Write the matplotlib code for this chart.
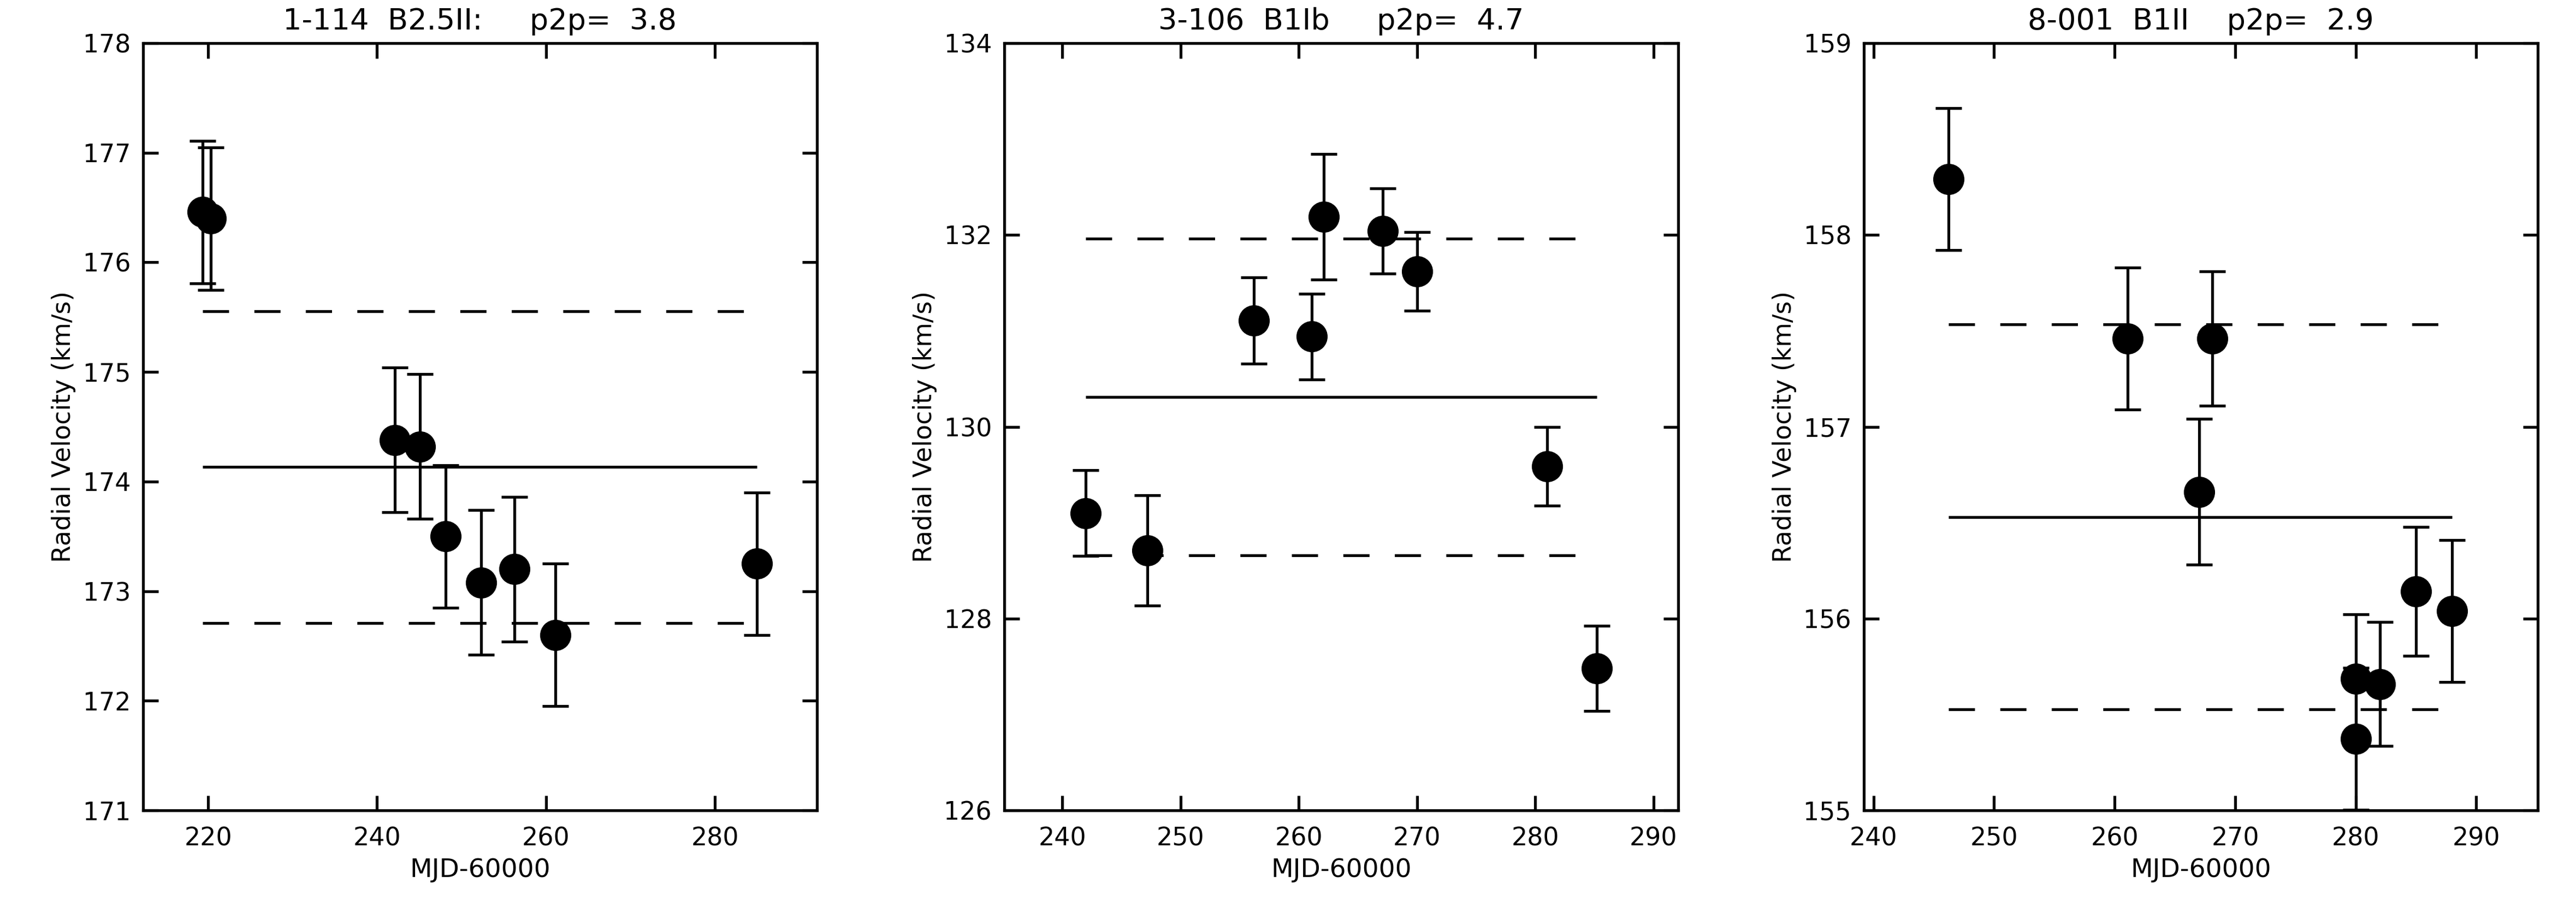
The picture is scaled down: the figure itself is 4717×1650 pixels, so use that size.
import numpy as np
import matplotlib
matplotlib.use("Agg")
import matplotlib.pyplot as plt

plt.rcParams['font.family'] = ['DejaVu Sans']

# ---- data ----
titles = ["1-114  B2.5II:     p2p=  3.8",
          "3-106  B1Ib     p2p=  4.7",
          "8-001  B1II    p2p=  2.9"]

mjd1 = [219.35, 220.3, 242.1, 245.1, 248.1, 252.3, 256.3, 261.1, 285.0]
rv1 = [176.46, 176.40, 174.38, 174.32, 173.50, 173.08, 173.20, 172.60, 173.25]
err1 = [0.65, 0.65, 0.66, 0.66, 0.65, 0.66, 0.66, 0.65, 0.65]

mjd2 = [242.0, 247.2, 256.2, 261.1, 262.1, 267.1, 270.0, 281.0, 285.2]
rv2 = [129.10, 128.71, 131.11, 130.94, 132.19, 132.04, 131.62, 129.59, 127.48]
err2 = [0.445, 0.575, 0.45, 0.445, 0.655, 0.445, 0.41, 0.41, 0.445]

mjd3 = [246.2, 261.1, 268.1, 267.0, 280.0, 280.0, 282.0, 285.0, 288.0]
rv3 = [158.29, 157.46, 157.46, 156.66, 155.686, 155.373, 155.658, 156.142, 156.039]
err3 = [0.37, 0.37, 0.35, 0.38, 0.336, 0.37, 0.323, 0.336, 0.37]

xlims = [(212.3, 292.1), (235.1, 292.1), (239.2, 295.1)]
ylims = [(171, 178), (126, 134), (155, 159)]
xticks = [[220, 240, 260, 280],
          [240, 250, 260, 270, 280, 290],
          [240, 250, 260, 270, 280, 290]]
yticks = [[171, 172, 173, 174, 175, 176, 177, 178],
          [126, 128, 130, 132, 134],
          [155, 156, 157, 158, 159]]

datasets = [(mjd1, rv1, err1), (mjd2, rv2, err2), (mjd3, rv3, err3)]

W, H = 4717, 1650
fig = plt.figure(figsize=(W / 300, H / 300), dpi=300)

lefts = [262, 1839, 3413]
aw = 1234
top, bottom = 79, 1484

lw = 1.25
for i, (x, y, e) in enumerate(datasets):
    ax = fig.add_axes([lefts[i] / W, 1 - bottom / H, aw / W, (bottom - top) / H])
    x = np.asarray(x); y = np.asarray(y); e = np.asarray(e)
    m = y.mean()
    s = y.std(ddof=1)
    ax.plot([x.min(), x.max()], [m, m], color='black', lw=lw, solid_capstyle='butt')
    for v in (m + s, m - s):
        ax.plot([x.min(), x.max()], [v, v], color='black', lw=lw,
                linestyle=(0, (9.2, 8.9)), dash_capstyle='butt')
    ax.errorbar(x, y, yerr=e, fmt='o', color='black', ms=12.7, mec='black',
                mfc='black', elinewidth=lw, capsize=5.7, capthick=lw, zorder=3)
    ax.set_xlim(*xlims[i])
    ax.set_ylim(*ylims[i])
    ax.set_xticks(xticks[i])
    ax.set_yticks(yticks[i])
    ax.tick_params(direction='in', length=6.6, width=lw, top=True, right=True,
                   labelsize=11, color='black')
    ax.tick_params(axis='x', pad=7)
    ax.tick_params(axis='y', pad=5.5)
    for sp in ax.spines.values():
        sp.set_linewidth(lw)
        sp.set_color('black')
    ax.set_xlabel("MJD-60000", fontsize=11.3, labelpad=3)
    ax.set_ylabel("Radial Velocity (km/s)", fontsize=11, labelpad=3)
    ax.set_title(titles[i], fontsize=13, pad=6)

fig.savefig("out.png", dpi=300, facecolor='white')
